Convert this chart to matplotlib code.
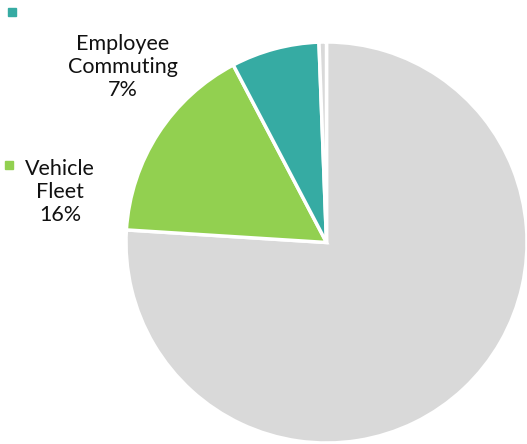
import matplotlib
matplotlib.use("Agg")
import matplotlib.pyplot as plt
from matplotlib.patches import Rectangle

# Emissions share by source
categories = ["Other", "Vehicle Fleet", "Employee Commuting", "Minor"]
values = [76.0, 16.3, 7.1, 0.6]
colors = ["#D9D9D9", "#92D050", "#36ABA3", "#D9D9D9"]
label_text = ["", "Vehicle\nFleet\n16%", "Employee\nCommuting\n7%", ""]

W, H = 527, 444
fig = plt.figure(figsize=(W / 100, H / 100), dpi=100)

# pie axes placed by pixel position (center ~ (326.5, 242.5), radius ~200.5)
cx, cy, r = 326.5, 242.5, 200.5
ax = fig.add_axes([(cx - r) / W, (H - cy - r) / H, 2 * r / W, 2 * r / H])
ax.pie(values, colors=colors, startangle=90, counterclock=False, radius=1,
       wedgeprops=dict(edgecolor="white", linewidth=2.5))
ax.set_xlim(-1, 1)
ax.set_ylim(-1, 1)
ax.set_aspect("equal")
ax.axis("off")

font = dict(family=["Lato", "DejaVu Sans"], fontsize=15.5, color="#111111",
            ha="center", va="center", linespacing=1.2)

# callout labels
fig.text(123 / W, 1 - 67 / H, label_text[2], **font)
fig.text(60 / W, 1 - 192 / H, label_text[1], **font)

# small square markers
fig.patches.append(Rectangle((8 / W, 1 - 16 / H), 8 / W, 8 / H,
                             transform=fig.transFigure, color=colors[2]))
fig.patches.append(Rectangle((5 / W, 1 - 169 / H), 8 / W, 8 / H,
                             transform=fig.transFigure, color=colors[1]))

fig.savefig("out.png", dpi=100)
